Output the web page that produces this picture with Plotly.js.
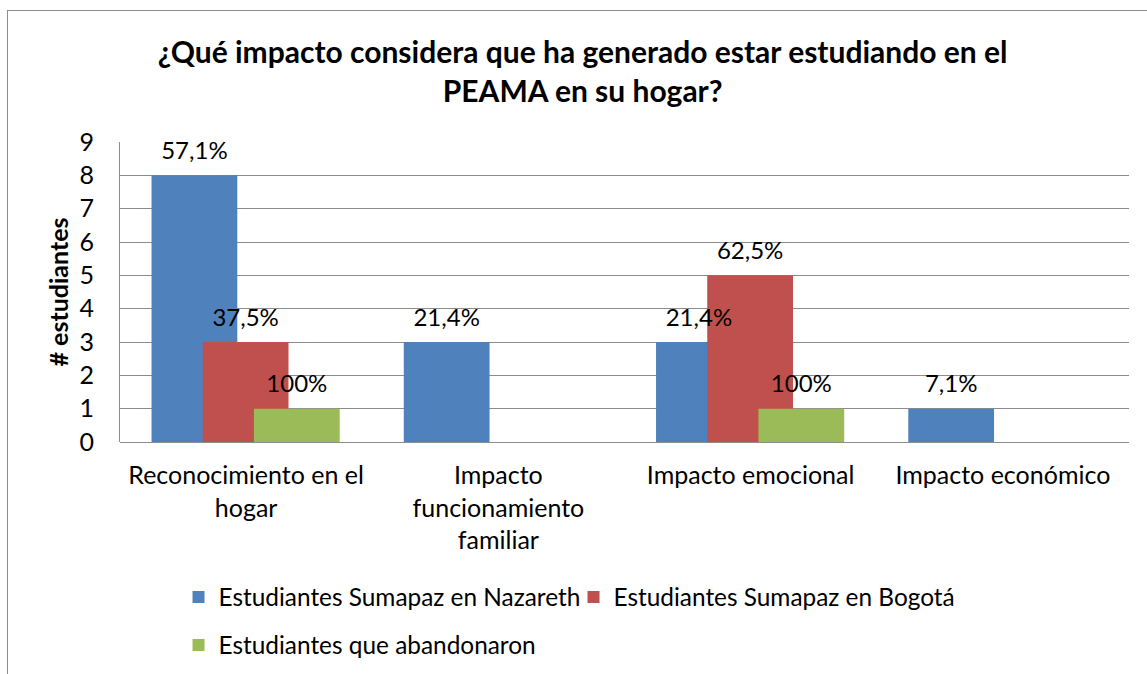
<!DOCTYPE html>
<html>
<head>
<meta charset="utf-8">
<script src="https://cdn.plot.ly/plotly-3.0.1.min.js"></script>
<style>
  html, body { margin: 0; padding: 0; background: #fff; overflow: hidden; }
  #chart { width: 1147px; height: 674px; position: relative; }
  #frame { position: absolute; left: 7px; top: 10px; width: 1300px; height: 800px;
           border: 1px solid #8c8c8c; pointer-events: none; box-sizing: border-box; }
</style>
</head>
<body>
<div id="chart"></div>
<div id="frame"></div>
<script>
// ---- data ----
const categories = [
  "Reconocimiento en el<br>hogar",
  "Impacto<br>funcionamiento<br>familiar",
  "Impacto emocional",
  "Impacto económico"
];
const seriesNames = [
  "Estudiantes Sumapaz en Nazareth",
  "Estudiantes Sumapaz en Bogotá",
  "Estudiantes que abandonaron"
];
const nazarethValues = [8, 3, 3, 1];
const bogotaValues   = [3, 0, 5, 0];
const abandonValues  = [1, 0, 1, 0];
const nazarethLabels = ["57,1%", "21,4%", "21,4%", "7,1%"];
const bogotaLabels   = ["37,5%", "", "62,5%", ""];
const abandonLabels  = ["100%", "", "100%", ""];
const yTicks = [0, 1, 2, 3, 4, 5, 6, 7, 8, 9];

// ---- style ----
const FONT = "Lato, 'Open Sans', sans-serif";
const colors = ["#4F81BD", "#C0504D", "#9BBB59"];
const offsets = [-0.375, -0.172, 0.031];
const barWidth = 0.34;
const values = [nazarethValues, bogotaValues, abandonValues];
const labels = [nazarethLabels, bogotaLabels, abandonLabels];

const traces = [];
// bars
for (let i = 0; i < 3; i++) {
  traces.push({
    type: "bar",
    name: seriesNames[i],
    x: categories,
    y: values[i],
    offset: offsets[i],
    width: barWidth,
    marker: { color: colors[i], line: { width: 0 } },
    legend: i < 2 ? "legend" : "legend2",
    hoverinfo: "skip"
  });
}
// labels on top of all bars (transparent copies)
for (let i = 0; i < 3; i++) {
  traces.push({
    type: "bar",
    x: categories,
    y: values[i],
    base: 0.25,
    offset: offsets[i],
    width: barWidth,
    marker: { color: "rgba(0,0,0,0)", line: { width: 0 } },
    text: labels[i],
    textposition: "outside",
    cliponaxis: false,
    textfont: { family: FONT, size: 24, color: "#000" },
    showlegend: false,
    hoverinfo: "skip"
  });
}

const legendCommon = {
  orientation: "h",
  xref: "paper", x: 0.058, xanchor: "left",
  yref: "container", yanchor: "middle",
  font: { family: FONT, size: 24.4, color: "#000" },
  bgcolor: "rgba(0,0,0,0)",
  itemwidth: 30,
  entrywidth: 350,
  entrywidthmode: "pixels"
};

const layout = {
  width: 1147,
  height: 674,
  paper_bgcolor: "#fff",
  plot_bgcolor: "#fff",
  barmode: "overlay",
  margin: { l: 120, r: 18, t: 142, b: 232, autoexpand: false },
  font: { family: FONT, size: 25, color: "#000" },
  title: {
    text: "<b>¿Qué impacto considera que ha generado estar estudiando en el<br>PEAMA en su hogar?</b>",
    font: { family: FONT, size: 30, color: "#000" },
    x: 0.508, xanchor: "center",
    y: 0.907, yanchor: "top"
  },
  xaxis: {
    type: "category",
    tickfont: { family: FONT, size: 25, color: "#000" },
    showgrid: false,
    showline: false,
    ticks: "",
    ticklabelstandoff: 16,
    range: [-0.5, 3.5],
    fixedrange: true
  },
  yaxis: {
    range: [0, 9],
    tickvals: yTicks,
    ticktext: yTicks.map(String),
    tickfont: { family: FONT, size: 25, color: "#000" },
    showgrid: true,
    gridcolor: "#8c8c8c",
    gridwidth: 1,
    showline: true,
    linecolor: "#8c8c8c",
    linewidth: 1,
    zeroline: true,
    zerolinecolor: "#8c8c8c",
    ticks: "",
    ticklabelstandoff: 20,
    title: { text: "<b># estudiantes</b>", font: { family: FONT, size: 25, color: "#000" }, standoff: 3 },
    fixedrange: true
  },
  legend: Object.assign({}, legendCommon, { y: 0.1142 }),
  legend2: Object.assign({}, legendCommon, { y: 0.043 }),
  showlegend: true
};

Plotly.newPlot("chart", traces, layout, { staticPlot: true, displayModeBar: false });
</script>
</body>
</html>
